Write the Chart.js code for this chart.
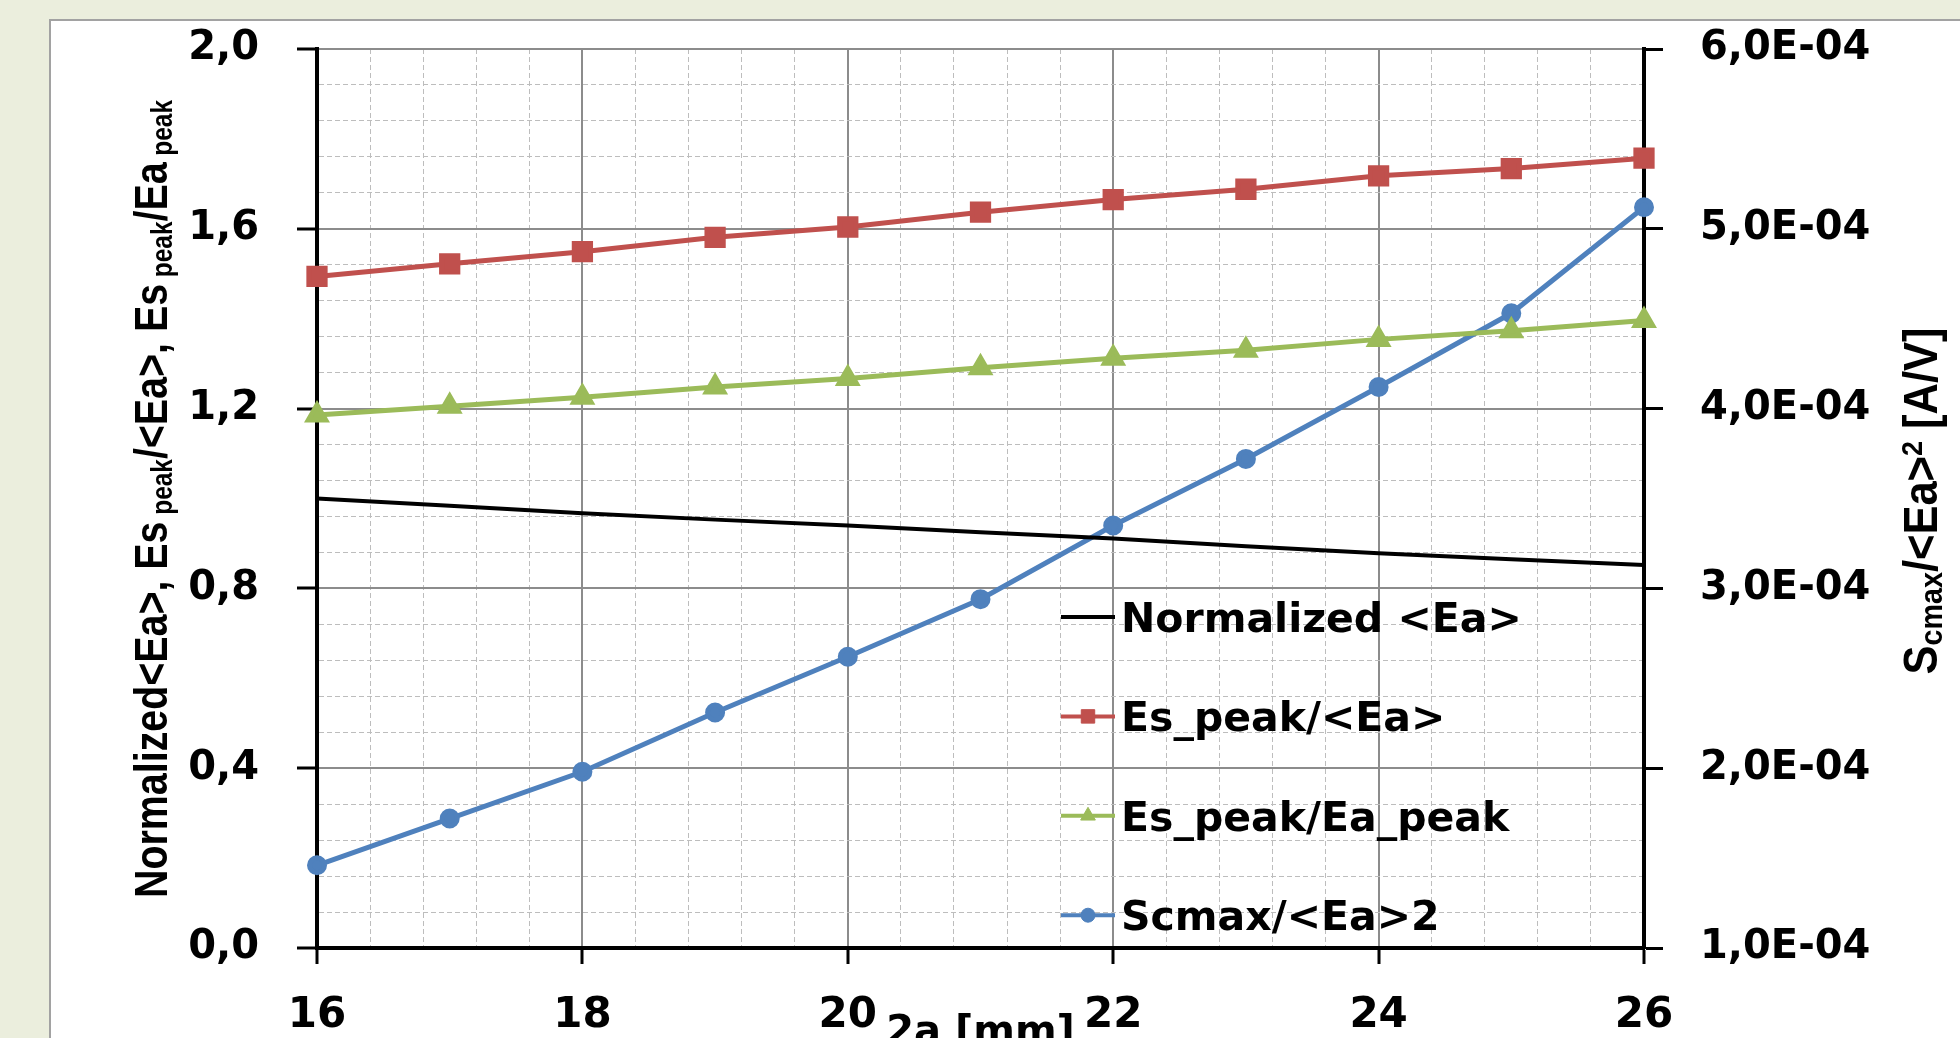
<!DOCTYPE html>
<html>
<head>
<meta charset="utf-8">
<title>Es peak / Ea vs aperture</title>
<script src="https://cdn.jsdelivr.net/npm/chart.js@4.4.1/dist/chart.umd.min.js"></script>
<style>
    html, body { margin: 0; padding: 0; background: #ebeedd; overflow: hidden; }
    #frame { position: absolute; left: 49px; top: 19px; width: 2000px; height: 1100px; background: #fff; border: 2px solid #a2a2a2; }
    #wrap { position: absolute; left: 0; top: 0; width: 1960px; height: 1038px; }
</style>
</head>
<body>
<div id="frame"></div>
<div id="wrap"><canvas id="chart"></canvas></div>
<script>
// aperture 2a [mm]
const apertures = [16, 17, 18, 19, 20, 21, 22, 23, 24, 25, 26];

const normalizedEa = [1.000, 0.984, 0.967, 0.953, 0.940, 0.925, 0.911, 0.894, 0.878, 0.865, 0.852];
const esPeakOverEa = [1.494, 1.522, 1.549, 1.581, 1.604, 1.637, 1.665, 1.688, 1.718, 1.734, 1.757];
const esPeakOverEaPeak = [1.186, 1.205, 1.225, 1.248, 1.267, 1.291, 1.312, 1.330, 1.354, 1.373, 1.396];
const scmaxOverEa2 = [1.46e-4, 1.72e-4, 1.98e-4, 2.31e-4, 2.62e-4, 2.94e-4, 3.35e-4, 3.72e-4, 4.12e-4, 4.53e-4, 5.12e-4];

const seriesLabels = ['Normalized <Ea>', 'Es_peak/<Ea>', 'Es_peak/Ea_peak', 'Scmax/<Ea>2'];

const xMajorTicks = [16, 18, 20, 22, 24, 26];
const yLeftTicks = [0, 0.4, 0.8, 1.2, 1.6, 2.0];
const yRightTicks = [1e-4, 2e-4, 3e-4, 4e-4, 5e-4, 6e-4];
const minorSplit = 5;

const FONT = 'DejaVu Sans';
const MAJOR_GRID = '#8c8c8c';
const MINOR_GRID = '#bdbdbd';

function withMinor(majors, split) {
    const out = [];
    for (let i = 0; i < majors.length - 1; i++) {
        const step = (majors[i + 1] - majors[i]) / split;
        for (let k = 0; k < split; k++) {
            out.push({ value: majors[i] + k * step, isMajor: k === 0 });
        }
    }
    out.push({ value: majors[majors.length - 1], isMajor: true });
    return out;
}

function isMajorCtx(c) {
    return !!(c.tick && c.tick.isMajor);
}

function sciLabel(v) {
    const parts = v.toExponential(1).split('e');
    const ex = parseInt(parts[1], 10);
    return parts[0].replace('.', ',') + 'E' + (ex < 0 ? '-' : '+') + String(Math.abs(ex)).padStart(2, '0');
}

function points(ys) {
    return apertures.map((x, i) => ({ x: x, y: ys[i] }));
}

// fixed axis boxes, and no label overhang pushing the plot area around
function fixBox(size) {
    return s => {
        if (s.isHorizontal()) {
            s.height = size;
        } else {
            s.width = size;
        }
        s.paddingTop = 0;
        s.paddingBottom = 0;
        s.paddingLeft = 0;
        s.paddingRight = 0;
    };
}

// legend drawn inside the plot, like the spreadsheet original
const insideLegend = {
    id: 'insideLegend',
    afterDraw(chart, args, opts) {
        const ctx = chart.ctx;
        ctx.save();
        chart.data.datasets.forEach((ds, i) => {
            const y = opts.top + i * opts.rowGap;
            ctx.strokeStyle = ds.borderColor;
            ctx.fillStyle = ds.borderColor;
            ctx.lineWidth = opts.lineWidth;
            ctx.setLineDash([]);
            ctx.beginPath();
            ctx.moveTo(opts.left, y);
            ctx.lineTo(opts.left + opts.lineLength, y);
            ctx.stroke();
            if (ds.pointRadius > 0) {
                ctx.lineWidth = 1;
                Chart.helpers.drawPoint(ctx, {
                    pointStyle: ds.pointStyle,
                    radius: opts.markerRadius[i],
                    rotation: 0,
                    borderWidth: 1
                }, opts.left + opts.lineLength / 2, y);
            }
            ctx.fillStyle = '#000';
            ctx.font = 'bold ' + opts.fontSize + 'px "' + FONT + '"';
            ctx.textAlign = 'left';
            ctx.textBaseline = 'alphabetic';
            ctx.fillText(ds.label, opts.left + opts.lineLength + 6, y + opts.fontSize * 0.365);
        });
        ctx.restore();
    }
};

// rotated axis titles with subscripts / superscripts
function drawRuns(ctx, runs, cx, cy, length, size, family) {
    let total = 0;
    runs.forEach(r => {
        ctx.font = 'bold ' + (size * r.k) + 'px ' + family;
        r.w = ctx.measureText(r.t).width;
        total += r.w;
    });
    const cap = size * 0.72;
    ctx.save();
    ctx.translate(cx, cy);
    ctx.rotate(-Math.PI / 2);
    ctx.scale(length / total, 1);
    ctx.fillStyle = '#000';
    ctx.textAlign = 'left';
    ctx.textBaseline = 'alphabetic';
    let x = -total / 2;
    runs.forEach(r => {
        ctx.font = 'bold ' + (size * r.k) + 'px ' + family;
        ctx.fillText(r.t, x, cap / 2 + r.dy);
        x += r.w;
    });
    ctx.restore();
}

const axisTitles = {
    id: 'axisTitles',
    afterDraw(chart) {
        const ctx = chart.ctx;
        drawRuns(ctx, [
            { t: 'Normalized<Ea>, Es', k: 1, dy: 0 },
            { t: ' peak', k: 0.62, dy: 5 },
            { t: '/<Ea>, Es', k: 1, dy: 0 },
            { t: ' peak', k: 0.62, dy: 5 },
            { t: '/Ea', k: 1, dy: 0 },
            { t: ' peak', k: 0.62, dy: 5 }
        ], 150, 499, 798, 47, '"Liberation Sans"');
        drawRuns(ctx, [
            { t: 'S', k: 1, dy: 0 },
            { t: 'cmax', k: 0.66, dy: 5 },
            { t: '/<Ea>', k: 1, dy: 0 },
            { t: '2', k: 0.62, dy: -15 },
            { t: ' [A/V]', k: 1, dy: 0 }
        ], 1920, 501, 347, 48, '"Liberation Sans"');
    }
};

function initializeChart() {
    const tickFont = { family: FONT, size: 40, weight: 'bold' };
    let config = {
        type: 'line',
        data: {
            datasets: [
            {
                label: seriesLabels[0],
                data: points(normalizedEa),
                yAxisID: 'y',
                borderColor: '#000000',
                backgroundColor: '#000000',
                borderWidth: 4,
                pointRadius: 0
            },
            {
                label: seriesLabels[1],
                data: points(esPeakOverEa),
                yAxisID: 'y',
                borderColor: '#c0504d',
                backgroundColor: '#c0504d',
                borderWidth: 5,
                pointStyle: 'rect',
                pointRadius: 11.5
            },
            {
                label: seriesLabels[2],
                data: points(esPeakOverEaPeak),
                yAxisID: 'y',
                borderColor: '#9bbb59',
                backgroundColor: '#9bbb59',
                borderWidth: 5,
                pointStyle: 'triangle',
                pointRadius: 10
            },
            {
                label: seriesLabels[3],
                data: points(scmaxOverEa2),
                yAxisID: 'y2',
                borderColor: '#4f81bd',
                backgroundColor: '#4f81bd',
                borderWidth: 5,
                pointStyle: 'circle',
                pointRadius: 7.5
            }]
        },
        options: {
            responsive: true,
            maintainAspectRatio: false,
            animation: false,
            devicePixelRatio: 1,
            layout: { padding: { top: 49, left: 0, right: 0, bottom: 0 } },
            elements: { line: { tension: 0 }, point: { borderWidth: 1 } },
            datasets: { line: { clip: false } },
            plugins: {
                legend: { display: false },
                tooltip: { enabled: false },
                insideLegend: {
                    left: 1061,
                    top: 617,
                    rowGap: 99.4,
                    lineLength: 54,
                    lineWidth: 4,
                    fontSize: 41,
                    markerRadius: [0, 9.5, 8.5, 7]
                }
            },
            scales: {
                x: {
                    type: 'linear',
                    position: 'bottom',
                    min: 16,
                    max: 26,
                    afterBuildTicks: s => { s.ticks = withMinor(xMajorTicks, minorSplit); },
                    afterFit: fixBox(90),
                    ticks: {
                        autoSkip: false,
                        maxRotation: 0,
                        padding: 27,
                        color: '#000',
                        font: { family: FONT, size: 42, weight: 'bold' },
                        callback: (v, i, ticks) => ticks[i].isMajor ? String(v) : ''
                    },
                    grid: {
                        color: c => isMajorCtx(c) ? MAJOR_GRID : MINOR_GRID,
                        lineWidth: c => isMajorCtx(c) ? 2 : 1,
                        tickLength: 16,
                        tickWidth: 3,
                        tickColor: c => isMajorCtx(c) ? '#000' : 'rgba(0,0,0,0)'
                    },
                    border: {
                        color: '#000',
                        width: 4,
                        dash: c => (c.tick && !c.tick.isMajor) ? [5, 3] : []
                    },
                    title: {
                        display: true,
                        text: '2a [mm]',
                        color: '#000',
                        font: { family: FONT, size: 40, weight: 'bold', lineHeight: 0.2 },
                        padding: 0
                    }
                },
                y: {
                    type: 'linear',
                    position: 'left',
                    min: 0,
                    max: 2,
                    afterBuildTicks: s => { s.ticks = withMinor(yLeftTicks, minorSplit); },
                    afterFit: fixBox(317),
                    ticks: {
                        autoSkip: false,
                        padding: 38,
                        color: '#000',
                        font: tickFont,
                        callback: (v, i, ticks) => ticks[i].isMajor ? v.toFixed(1).replace('.', ',') : ''
                    },
                    grid: {
                        color: c => isMajorCtx(c) ? MAJOR_GRID : MINOR_GRID,
                        lineWidth: c => isMajorCtx(c) ? 2 : 1,
                        tickLength: 20,
                        tickWidth: 3,
                        tickColor: c => isMajorCtx(c) ? '#000' : 'rgba(0,0,0,0)'
                    },
                    border: {
                        color: '#000',
                        width: 4,
                        dash: c => (c.tick && !c.tick.isMajor) ? [5, 3] : []
                    }
                },
                y2: {
                    type: 'linear',
                    position: 'right',
                    min: 1e-4,
                    max: 6e-4,
                    afterBuildTicks: s => { s.ticks = yRightTicks.map(v => ({ value: v, isMajor: true })); },
                    afterFit: fixBox(316),
                    ticks: {
                        autoSkip: false,
                        padding: 37,
                        color: '#000',
                        font: tickFont,
                        callback: v => sciLabel(v)
                    },
                    grid: {
                        drawOnChartArea: false,
                        tickLength: 19,
                        tickWidth: 3,
                        tickColor: '#000'
                    },
                    border: { color: '#000', width: 4 }
                }
            }
        },
        plugins: [insideLegend, axisTitles]
    };
    const ctx = document.getElementById('chart').getContext('2d');
    return new Chart(ctx, config);
}

initializeChart();
</script>
</body>
</html>
